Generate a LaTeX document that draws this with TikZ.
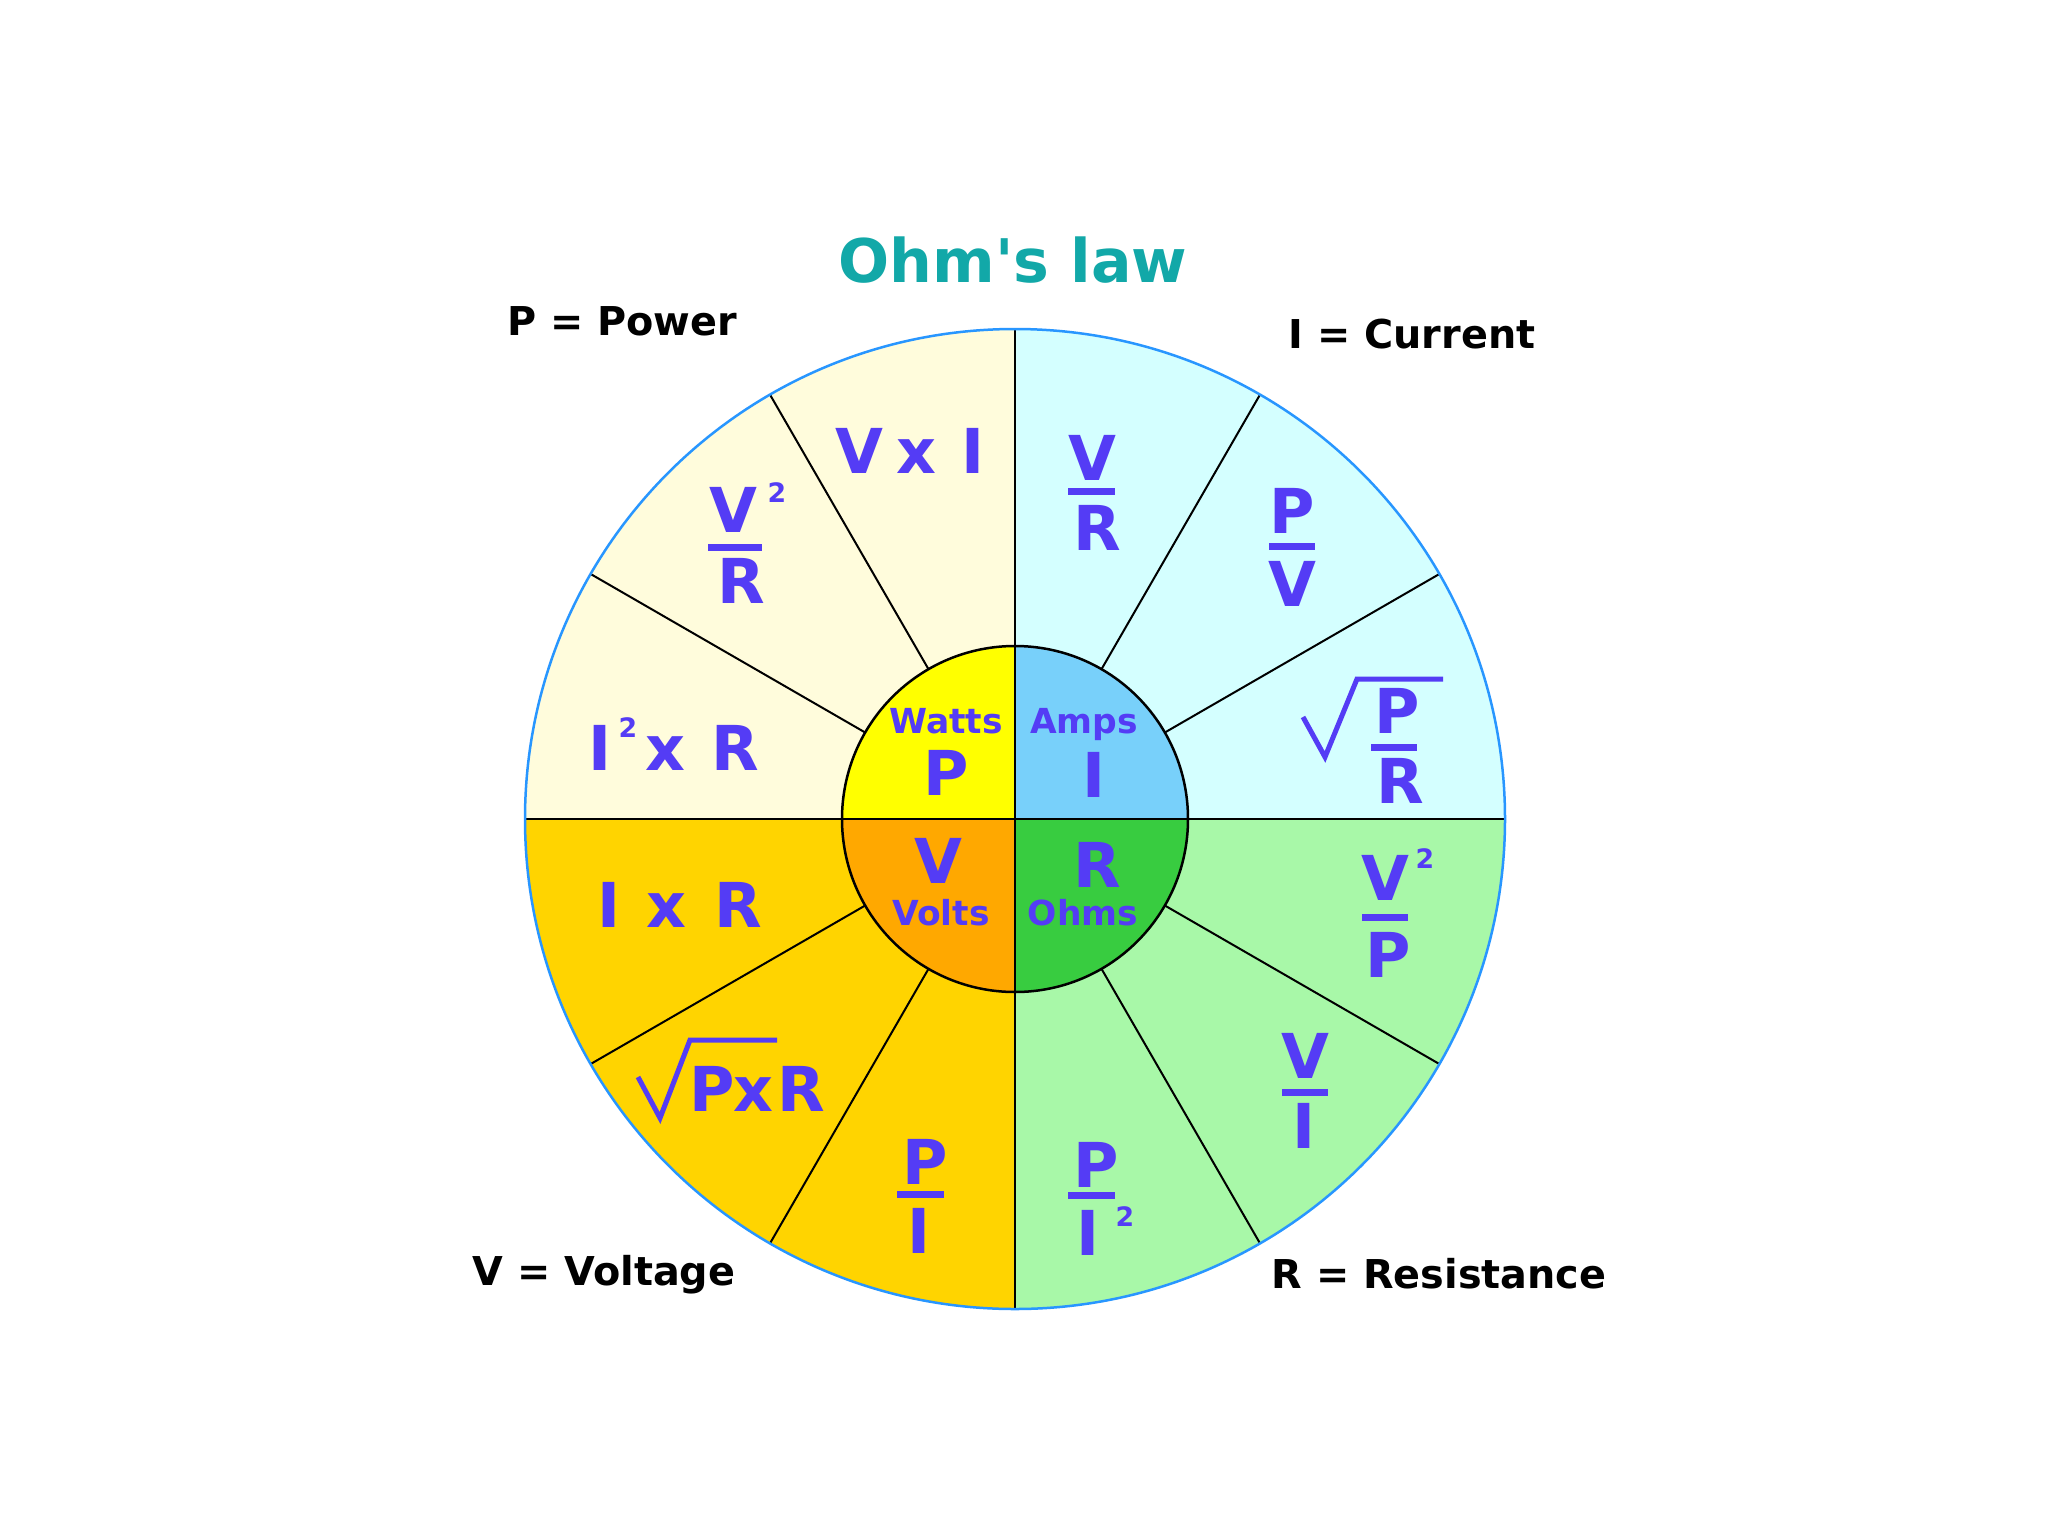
\documentclass[tikz,border=0pt]{standalone}
\usepackage{fontspec}
\setmainfont{DejaVu Sans}
\newfontfamily\titlefont{DejaVu Sans}
\usetikzlibrary{calc}
\definecolor{ink}{RGB}{84,60,245}
\definecolor{teal1}{RGB}{18,168,168}
\definecolor{powbg}{RGB}{255,252,220}
\definecolor{curbg}{RGB}{212,255,255}
\definecolor{volbg}{RGB}{255,212,0}
\definecolor{resbg}{RGB}{168,248,168}
\definecolor{powin}{RGB}{255,255,0}
\definecolor{curin}{RGB}{120,208,250}
\definecolor{volin}{RGB}{255,168,0}
\definecolor{resin}{RGB}{56,204,64}
\definecolor{rim}{RGB}{40,150,255}
\tikzset{
  formula/.style={text=ink, font=\fontsize{17.6}{20}\selectfont\bfseries, inner sep=0pt, anchor=base},
  supnum/.style={text=ink, font=\fontsize{7.6}{9}\selectfont\bfseries, inner sep=0pt, anchor=base},
  unitlbl/.style={text=ink, font=\fontsize{9.8}{11}\selectfont\bfseries, inner sep=0pt, anchor=base},
  legend/.style={text=black, font=\fontsize{11.3}{13}\selectfont\bfseries, inner sep=0pt, anchor=base},
  titlestyle/.style={text=teal1, font=\titlefont\fontsize{17.1}{20}\selectfont\bfseries, inner sep=0pt, anchor=base},
  spoke/.style={draw=black, line width=0.02cm},
  axisline/.style={draw=black, line width=0.028cm},
  fracbar/.style={draw=ink, line width=0.07cm},
  rootsign/.style={draw=ink, line width=0.05cm, line join=miter},
}
\begin{document}
\begin{tikzpicture}[x=0.01cm,y=-0.01cm]
\useasboundingbox (0,0) rectangle (2048,1536);
\fill[white] (0,0) rectangle (2048,1536);
\coordinate (c) at (1015,819);
% outer quadrants (y axis points down: 270 = up)
\fill[powbg] (c) -- ++(180:490) arc[start angle=180,end angle=270,radius=490] -- cycle;
\fill[curbg] (c) -- ++(270:490) arc[start angle=270,end angle=360,radius=490] -- cycle;
\fill[resbg] (c) -- ++(0:490) arc[start angle=0,end angle=90,radius=490] -- cycle;
\fill[volbg] (c) -- ++(90:490) arc[start angle=90,end angle=180,radius=490] -- cycle;
% inner quadrants
\fill[powin] (c) -- ++(180:173) arc[start angle=180,end angle=270,radius=173] -- cycle;
\fill[curin] (c) -- ++(270:173) arc[start angle=270,end angle=360,radius=173] -- cycle;
\fill[resin] (c) -- ++(0:173) arc[start angle=0,end angle=90,radius=173] -- cycle;
\fill[volin] (c) -- ++(90:173) arc[start angle=90,end angle=180,radius=173] -- cycle;
% spokes
\foreach \a in {30,60,120,150,210,240,300,330}
  \draw[spoke] ($(c)+(\a:173)$) -- ($(c)+(\a:490)$);
\draw[axisline] ($(c)+(180:490)$) -- ($(c)+(0:490)$);
\draw[axisline] ($(c)+(270:490)$) -- ($(c)+(90:490)$);
\draw[black, line width=0.025cm] (c) circle[radius=173];
\draw[rim, line width=0.025cm] (c) circle[radius=490];

% title and legends
\node[titlestyle] (title) at (1013,282) {Ohm's law};
\node[legend] (lp) at (622,335) {P = Power};
\node[legend] (li) at (1412,348) {I = Current};
\node[legend] (lv) at (604,1285) {V = Voltage};
\node[legend] (lr) at (1439,1288) {R = Resistance};

% inner circle
\node[unitlbl] (watts) at (946,733) {Watts};
\node[formula] (pin) at (946,795) {P};
\node[unitlbl] (amps) at (1084,733) {Amps};
\node[formula] (iin) at (1094,797) {I};
\node[formula] (vin) at (938,883) {V};
\node[unitlbl] (volts) at (941,925) {Volts};
\node[formula] (rin) at (1097,887) {R};
\node[unitlbl] (ohms) at (1083,925) {Ohms};

% power sector
\node[formula] (vxi1) at (859,473) {V};
\node[formula] (vxi2) at (916,473) {x};
\node[formula] (vxi3) at (973,473) {I};
\node[formula] (vsr1) at (733,532) {V};
\node[supnum] (vsr2) at (777,502) {2};
\draw[fracbar] (708,547) -- (762,547);
\node[formula] (vsr3) at (741,603) {R};
\node[formula] (isr1) at (600,770) {I};
\node[supnum] (isr2) at (628,737) {2};
\node[formula] (isr3) at (665,770) {x};
\node[formula] (isr4) at (735,770) {R};

% current sector
\node[formula] (vr1) at (1092,480) {V};
\draw[fracbar] (1068,491) -- (1115,491);
\node[formula] (vr2) at (1097,550) {R};
\node[formula] (pv1) at (1292,533) {P};
\draw[fracbar] (1269,546) -- (1315,546);
\node[formula] (pv2) at (1292,606) {V};
\draw[rootsign] (1303,717) -- (1325,757) -- (1357,679) -- (1443,679);
\node[formula] (pr1) at (1397,733) {P};
\draw[fracbar] (1371,747) -- (1417,747);
\node[formula] (pr2) at (1400,803) {R};

% resistance sector
\node[formula] (vp1) at (1385,900) {V};
\node[supnum] (vp2) at (1425,868) {2};
\draw[fracbar] (1362,917) -- (1408,917);
\node[formula] (vp3) at (1388,977) {P};
\node[formula] (vi1) at (1305,1078) {V};
\draw[fracbar] (1282,1092) -- (1328,1092);
\node[formula] (vi2) at (1304,1148) {I};
\node[formula] (pi1) at (1096,1187) {P};
\draw[fracbar] (1068,1195) -- (1115,1195);
\node[formula] (pi2) at (1088,1255) {I};
\node[supnum] (pi3) at (1125,1226) {2};

% voltage sector
\node[formula] (ixr1) at (609,927) {I};
\node[formula] (ixr2) at (666,927) {x};
\node[formula] (ixr3) at (738,927) {R};
\draw[rootsign] (638,1077) -- (660,1118) -- (690,1040) -- (777,1040);
\node[formula] (pxr1) at (712,1111) {P};
\node[formula] (pxr2) at (753,1111) {x};
\node[formula] (pxr3) at (801,1111) {R};
\node[formula] (pdi1) at (925,1184) {P};
\draw[fracbar] (897,1194) -- (944,1194);
\node[formula] (pdi2) at (919,1253) {I};
\end{tikzpicture}
\end{document}
